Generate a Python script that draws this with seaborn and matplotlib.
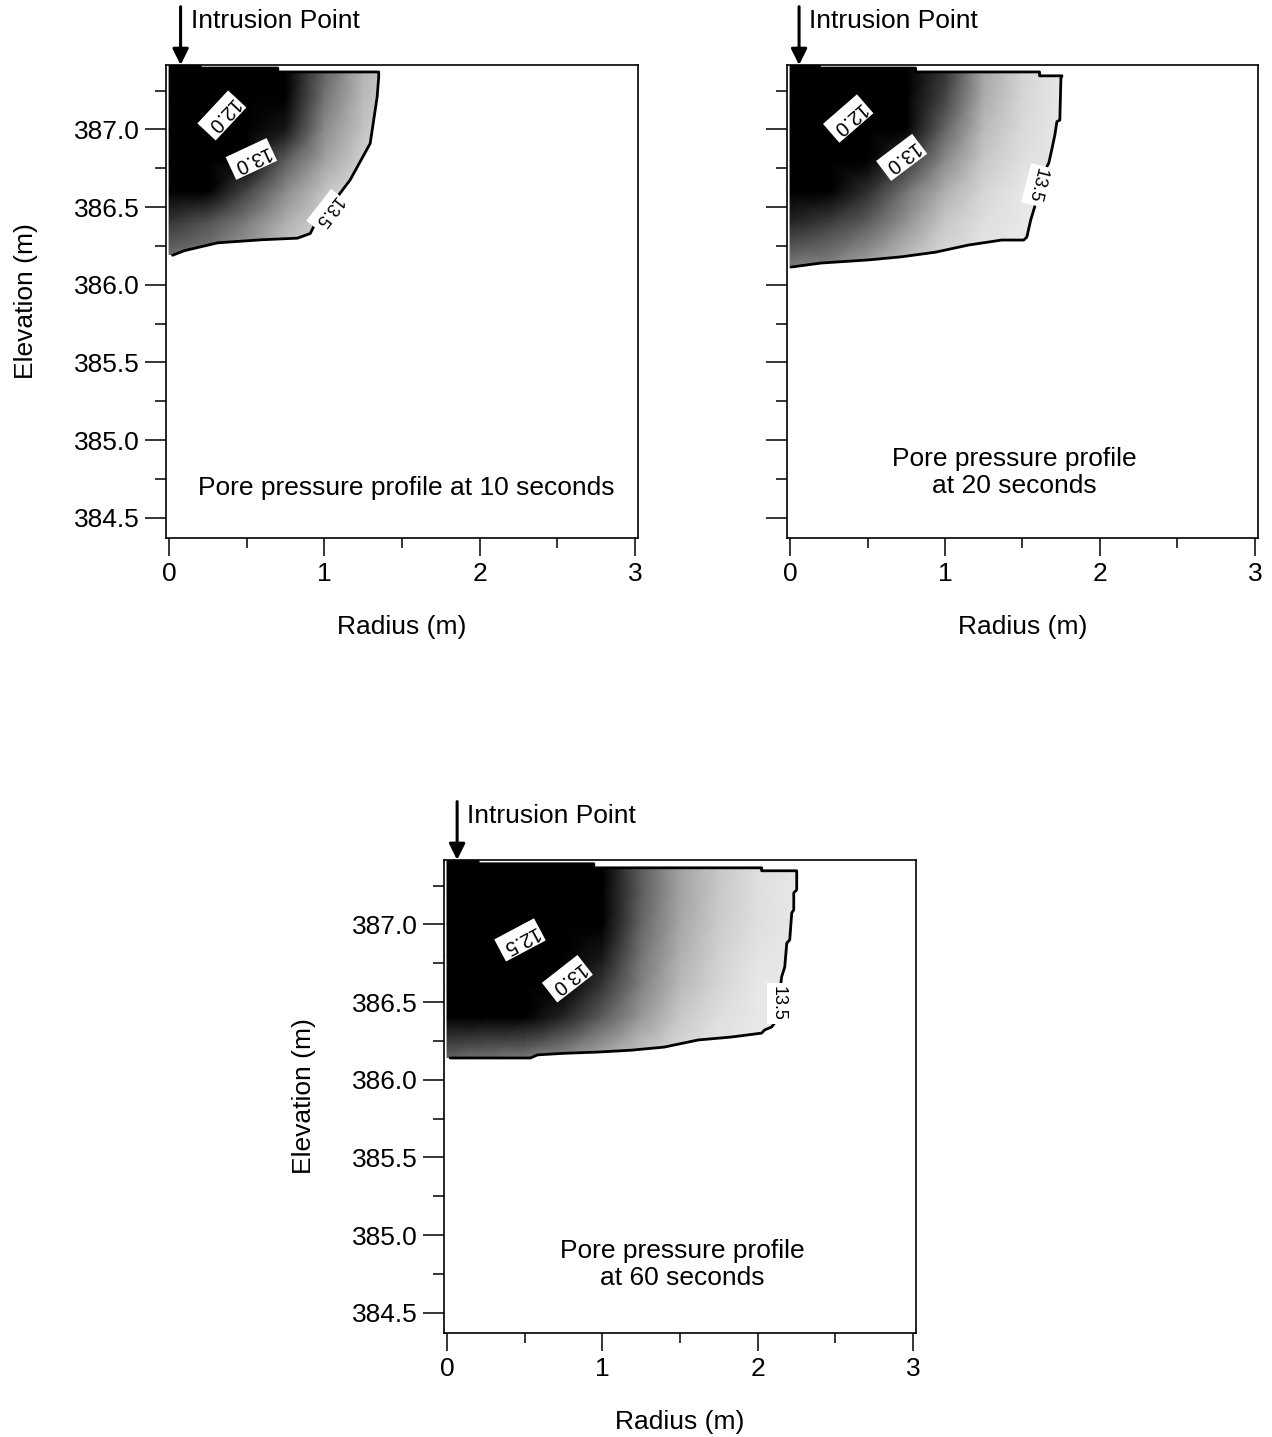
"""
Pore pressure profiles around the intrusion point at 10, 20 and 60 seconds.
"""

import numpy as np
import pandas as pd
import matplotlib
matplotlib.use("Agg")
import matplotlib.pyplot as plt
from matplotlib.patches import Polygon
from matplotlib.ticker import MultipleLocator, FormatStrFormatter
import seaborn as sns


# DATA

ELEV_NODES = [387.45, 387.2, 387.0, 386.8, 386.6, 386.4, 386.1]

# pore pressure on a coarse grid (rows = ELEV_NODES, cols = radius nodes)
RADIUS_10S = [0.0, 0.25, 0.5, 0.75, 1.0, 1.25, 1.5]
PRESSURE_10S = [
    [11.8, 12.2, 12.6, 12.95, 13.2, 13.38, 13.45],
    [11.9, 12.3, 12.7, 13.0, 13.25, 13.4, 13.47],
    [12.1, 12.4, 12.8, 13.05, 13.3, 13.42, 13.48],
    [12.4, 12.7, 12.98, 13.2, 13.35, 13.45, 13.5],
    [12.85, 12.98, 13.15, 13.3, 13.42, 13.48, 13.5],
    [13.12, 13.18, 13.27, 13.38, 13.45, 13.5, 13.5],
    [13.28, 13.3, 13.37, 13.45, 13.5, 13.5, 13.5],
]

RADIUS_20S = [0.0, 0.25, 0.5, 0.75, 1.0, 1.25, 1.5, 1.75]
PRESSURE_20S = [
    [11.7, 12.0, 12.4, 12.8, 13.1, 13.35, 13.45, 13.5],
    [11.8, 12.1, 12.5, 12.85, 13.15, 13.37, 13.46, 13.5],
    [12.0, 12.3, 12.65, 12.98, 13.22, 13.4, 13.47, 13.5],
    [12.4, 12.6, 12.9, 13.12, 13.3, 13.43, 13.48, 13.5],
    [12.85, 12.95, 13.1, 13.25, 13.38, 13.46, 13.5, 13.5],
    [13.08, 13.13, 13.2, 13.32, 13.43, 13.48, 13.5, 13.5],
    [13.28, 13.3, 13.37, 13.44, 13.48, 13.5, 13.5, 13.5],
]

RADIUS_60S = [0.0, 0.25, 0.5, 0.75, 1.0, 1.25, 1.5, 1.75, 2.0, 2.25]
PRESSURE_60S = [
    [11.9, 12.1, 12.4, 12.7, 12.95, 13.2, 13.35, 13.43, 13.48, 13.5],
    [11.95, 12.15, 12.45, 12.75, 12.97, 13.2, 13.35, 13.43, 13.48, 13.5],
    [12.05, 12.25, 12.55, 12.8, 12.99, 13.22, 13.36, 13.44, 13.48, 13.5],
    [12.2, 12.4, 12.65, 12.88, 13.05, 13.25, 13.38, 13.45, 13.49, 13.5],
    [12.4, 12.6, 12.8, 12.97, 13.12, 13.28, 13.4, 13.46, 13.5, 13.5],
    [12.85, 12.9, 12.98, 13.08, 13.2, 13.33, 13.43, 13.48, 13.5, 13.5],
    [13.25, 13.28, 13.3, 13.34, 13.4, 13.45, 13.48, 13.5, 13.5, 13.5],
]

# 13.5 contour (outer boundary), traced clockwise from the top-left corner
BOUND_R_10S = [-0.02, 0.20, 0.20, 0.70, 0.70, 1.35, 1.35, 1.34, 1.295, 1.166,
               1.083, 0.954, 0.909, 0.826, 0.60, 0.312, 0.10, 0.022, -0.02]
BOUND_Z_10S = [387.415, 387.415, 387.395, 387.395, 387.37, 387.37, 387.34, 387.21,
               386.91, 386.675, 386.565, 386.42, 386.33, 386.30, 386.29, 386.27,
               386.22, 386.19, 386.19]

BOUND_R_20S = [-0.02, 0.19, 0.19, 0.81, 0.81, 1.61, 1.61, 1.755, 1.748, 1.741,
               1.722, 1.709, 1.689, 1.670, 1.605, 1.586, 1.553, 1.528, 1.508,
               1.366, 1.152, 0.939, 0.718, 0.505, 0.2, 0.006, -0.02]
BOUND_Z_20S = [387.415, 387.415, 387.395, 387.395, 387.37, 387.37, 387.345,
               387.345, 387.33, 387.06, 387.05, 386.965, 386.87, 386.785,
               386.655, 386.526, 386.417, 386.307, 386.288, 386.288, 386.256,
               386.21, 386.18, 386.16, 386.14, 386.114, 386.114]

BOUND_R_60S = [-0.02, 0.2, 0.2, 0.945, 0.945, 2.026, 2.026, 2.252, 2.252, 2.233,
               2.233, 2.220, 2.207, 2.188, 2.175, 2.155, 2.136, 2.11, 2.091,
               2.045, 2.026, 1.832, 1.618, 1.398, 1.184, 0.971, 0.751, 0.583,
               0.537, 0.02, -0.02]
BOUND_Z_60S = [387.415, 387.415, 387.39, 387.39, 387.364, 387.364, 387.345,
               387.345, 387.222, 387.203, 387.093, 387.074, 386.90, 386.88,
               386.726, 386.662, 386.514, 386.365, 386.34, 386.32, 386.30,
               386.275, 386.256, 386.21, 386.19, 386.178, 386.17, 386.16,
               386.14, 386.14, 386.14]

# contour labels: text, radius, elevation, rotation
LABELS_10S = [("12.0", 0.34, 387.09, -133), ("13.0", 0.53, 386.81, -155),
              ("13.5", 1.02, 386.47, -128)]
LABELS_20S = [("12.0", 0.375, 387.07, -139), ("13.0", 0.72, 386.82, -143),
              ("13.5", 1.594, 386.64, -104)]
LABELS_60S = [("12.5", 0.47, 386.90, -152), ("13.0", 0.775, 386.65, -142),
              ("13.5", 2.134, 386.49, -90)]

INTRUSION_R = [0.074, 0.058, 0.065]
CAPTIONS = ["Pore pressure profile at 10 seconds",
            "Pore pressure profile\nat 20 seconds",
            "Pore pressure profile\nat 60 seconds"]
CAPTION_POS = [(1.526, 384.69), (1.45, 384.79), (1.515, 384.81)]


# STYLE

sns.set_theme(style="ticks")
plt.rcParams["font.family"] = ["Liberation Sans", "DejaVu Sans"]
plt.rcParams["text.color"] = "black"
plt.rcParams["axes.labelcolor"] = "black"
plt.rcParams["axes.edgecolor"] = "black"
plt.rcParams["axes.linewidth"] = 1.2
plt.rcParams["xtick.color"] = "black"
plt.rcParams["ytick.color"] = "black"
FS = 19


def draw_panel(ax, radius, pressure, bound_r, bound_z, labels, arrow_r,
               caption, cap_pos, show_ylabel=True):
    R, Z = np.meshgrid(radius, ELEV_NODES)
    P = np.array(pressure)
    mesh = ax.pcolormesh(R, Z, P, shading="gouraud", cmap="gray",
                         vmin=13.0, vmax=13.55, zorder=1)
    clip = Polygon(np.column_stack([bound_r, bound_z]), closed=True,
                   transform=ax.transData)
    mesh.set_clip_path(clip)

    # 13.5 isoline (skip the segments lying on the frame)
    df = pd.DataFrame({"r": bound_r[1:-1], "z": bound_z[1:-1]})
    sns.lineplot(data=df, x="r", y="z", sort=False, estimator=None,
                 color="black", lw=2.0, ax=ax, zorder=3)

    for txt, r, z, rot in labels:
        small = txt == "13.5"
        ax.text(r, z, txt, rotation=rot, rotation_mode="anchor",
                ha="center", va="center", fontsize=13 if small else 14.5,
                zorder=4,
                bbox=dict(boxstyle="square,pad=0.15", fc="white", ec="none"))

    ax.annotate("", xy=(arrow_r, 387.415), xytext=(arrow_r, 387.79),
                arrowprops=dict(arrowstyle="-|>", lw=2.2, color="black",
                                mutation_scale=24, shrinkA=0, shrinkB=0),
                annotation_clip=False)
    ax.text(arrow_r + 0.065, 387.70, "Intrusion Point", fontsize=FS,
            va="center", ha="left", clip_on=False)

    ax.text(cap_pos[0], cap_pos[1], caption, fontsize=FS, ha="center",
            va="center", linespacing=1.15)

    ax.set_xlim(-0.02, 3.02)
    ax.set_ylim(384.37, 387.415)
    ax.xaxis.set_major_locator(MultipleLocator(1))
    ax.xaxis.set_minor_locator(MultipleLocator(0.5))
    ax.yaxis.set_major_locator(MultipleLocator(0.5))
    ax.yaxis.set_minor_locator(MultipleLocator(0.25))
    ax.yaxis.set_major_formatter(FormatStrFormatter("%.1f"))
    ax.tick_params(which="major", length=15, width=1.1, labelsize=FS, pad=4)
    ax.tick_params(which="minor", length=8, width=1.1)
    ax.tick_params(axis="x", which="major", length=13)
    ax.tick_params(axis="x", which="minor", length=7)
    ax.set_xlabel("Radius (m)", fontsize=FS, labelpad=21)
    if show_ylabel:
        ax.set_ylabel("Elevation (m)", fontsize=FS, labelpad=26)
    else:
        ax.set_ylabel("")
        ax.tick_params(axis="y", labelleft=False)
    for s in ax.spines.values():
        s.set_visible(True)
        s.set_zorder(5)


fig = plt.figure(figsize=(12.72, 14.37), dpi=100)
ax1 = fig.add_axes([0.1305, 0.6256, 0.3711, 0.3292])
ax2 = fig.add_axes([0.6187, 0.6256, 0.3703, 0.3292])
ax3 = fig.add_axes([0.3490, 0.0724, 0.3711, 0.3292])

draw_panel(ax1, RADIUS_10S, PRESSURE_10S, BOUND_R_10S, BOUND_Z_10S, LABELS_10S,
           INTRUSION_R[0], CAPTIONS[0], CAPTION_POS[0])
draw_panel(ax2, RADIUS_20S, PRESSURE_20S, BOUND_R_20S, BOUND_Z_20S, LABELS_20S,
           INTRUSION_R[1], CAPTIONS[1], CAPTION_POS[1], show_ylabel=False)
draw_panel(ax3, RADIUS_60S, PRESSURE_60S, BOUND_R_60S, BOUND_Z_60S, LABELS_60S,
           INTRUSION_R[2], CAPTIONS[2], CAPTION_POS[2])

fig.savefig("out.png", dpi=100)
